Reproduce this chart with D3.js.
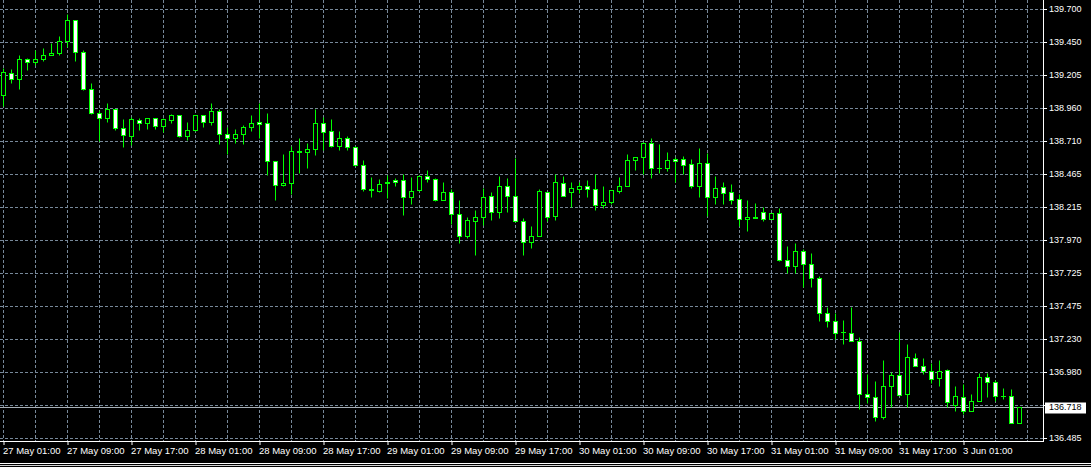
<!DOCTYPE html>
<html>
<head>
<meta charset="utf-8">
<script src="https://cdn.jsdelivr.net/npm/d3@7/dist/d3.min.js"></script>
<style>
  html, body { margin: 0; padding: 0; background: #000; }
  svg { display: block; }
</style>
</head>
<body>
<svg id="chart" width="1091" height="467"></svg>
<script>
// ---------- DATA (H1 candles) ----------
const opens = [
139.054,139.222,139.177,139.327,139.301,139.324,139.357,139.369,139.459,139.619,
139.379,139.102,138.922,138.885,138.947,138.810,138.747,138.870,138.844,138.885,
138.822,138.867,138.902,138.747,138.792,138.902,138.852,138.937,138.765,138.732,
138.762,138.817,138.855,138.847,138.562,138.380,138.394,138.637,138.627,138.649,
138.847,138.787,138.672,138.733,138.667,138.532,138.350,138.338,138.402,138.422,
138.420,138.290,138.342,138.452,138.428,138.267,138.332,138.167,137.997,138.110,
138.140,138.300,138.177,138.375,138.300,138.113,137.952,137.997,138.330,138.147,
138.397,138.327,138.350,138.375,138.353,138.230,138.257,138.335,138.372,138.567,
138.592,138.697,138.509,138.505,138.577,138.577,138.542,138.372,138.547,138.290,
138.368,138.330,138.278,138.125,138.140,138.180,138.125,138.173,137.820,137.772,
137.888,137.790,137.686,137.423,137.363,137.281,137.273,137.213,136.816,136.794,
136.644,136.876,136.959,136.813,137.088,137.026,136.989,136.931,136.996,136.731,
136.794,136.689,136.761,136.944,136.906,136.798,136.798,136.601];
const highs = [
139.259,139.247,139.359,139.331,139.391,139.404,139.444,139.501,139.659,139.621,
139.389,139.142,138.942,138.992,138.947,138.872,138.892,138.885,138.885,138.885,
138.885,138.915,138.909,138.852,138.902,138.909,138.999,138.952,138.814,138.797,
138.827,138.902,138.997,138.917,138.562,138.610,138.672,138.735,138.697,138.947,
138.892,138.872,138.782,138.747,138.677,138.572,138.443,138.428,138.457,138.435,
138.460,138.443,138.457,138.490,138.435,138.407,138.353,138.267,138.140,138.197,
138.355,138.327,138.445,138.437,138.580,138.137,138.075,138.353,138.330,138.465,
138.452,138.402,138.402,138.415,138.465,138.370,138.340,138.440,138.617,138.592,
138.707,138.730,138.685,138.627,138.592,138.602,138.577,138.662,138.622,138.445,
138.402,138.385,138.315,138.265,138.248,138.218,138.173,138.210,137.922,137.948,
137.905,137.873,137.698,137.468,137.423,137.373,137.468,137.243,136.961,136.911,
137.066,136.978,137.278,137.193,137.124,137.086,137.049,137.066,137.004,136.878,
136.886,136.816,136.974,136.974,136.916,136.861,136.849,136.719];
const lows = [
138.972,139.147,139.102,139.241,139.284,139.307,139.357,139.359,139.414,139.314,
139.092,138.912,138.709,138.852,138.792,138.664,138.679,138.792,138.797,138.797,
138.777,138.842,138.739,138.722,138.784,138.814,138.829,138.692,138.615,138.697,
138.692,138.784,138.732,138.457,138.272,138.372,138.317,138.472,138.507,138.604,
138.647,138.667,138.640,138.643,138.522,138.335,138.293,138.327,138.282,138.372,
138.153,138.235,138.335,138.402,138.260,138.267,138.092,137.948,137.982,137.855,
138.085,138.117,138.135,138.177,138.107,137.860,137.907,137.997,138.110,138.117,
138.297,138.215,138.323,138.290,138.197,138.205,138.242,138.320,138.372,138.490,
138.465,138.430,138.472,138.484,138.405,138.465,138.357,138.290,138.147,138.235,
138.242,138.242,138.072,138.035,138.133,138.110,138.125,137.810,137.723,137.723,
137.615,137.615,137.360,137.317,137.228,137.193,137.210,136.699,136.749,136.609,
136.629,136.719,136.806,136.719,137.023,136.963,136.899,136.878,136.719,136.684,
136.663,136.689,136.761,136.791,136.759,136.774,136.599,136.599];
const closes = [
139.229,139.177,139.327,139.304,139.327,139.359,139.372,139.462,139.619,139.379,
139.102,138.922,138.885,138.947,138.810,138.754,138.872,138.844,138.885,138.822,
138.872,138.902,138.747,138.795,138.902,138.855,138.937,138.765,138.732,138.765,
138.819,138.842,138.837,138.562,138.383,138.397,138.637,138.629,138.652,138.842,
138.777,138.672,138.732,138.666,138.532,138.353,138.343,138.392,138.395,138.405,
138.290,138.338,138.452,138.428,138.267,138.332,138.162,137.997,138.115,138.143,
138.293,138.177,138.375,138.297,138.111,137.952,138.000,138.338,138.140,138.405,
138.297,138.360,138.375,138.350,138.230,138.255,138.340,138.377,138.570,138.592,
138.697,138.505,138.509,138.572,138.559,138.529,138.372,138.547,138.290,138.360,
138.320,138.267,138.125,138.143,138.133,138.125,138.173,137.818,137.772,137.888,
137.787,137.683,137.420,137.363,137.273,137.281,137.210,136.813,136.794,136.644,
136.876,136.959,136.806,137.094,137.023,136.986,136.926,136.989,136.753,136.801,
136.689,136.764,136.944,136.906,136.798,136.798,136.599,136.718];

const priceTickLabels = ["139.700","139.450","139.205","138.960","138.710","138.465","138.215",
                         "137.970","137.725","137.475","137.230","136.980","136.730","136.485"];
const priceMin = 136.485, priceMax = 139.700;
const currentPrice = 136.718;
const currentPriceLabel = "136.718";

const timeTickIndex = [0,8,16,24,32,40,48,56,64,72,80,88,96,104,112,120];
const timeTickLabels = ["27 May 01:00","27 May 09:00","27 May 17:00","28 May 01:00","28 May 09:00",
  "28 May 17:00","29 May 01:00","29 May 09:00","29 May 17:00","30 May 01:00","30 May 09:00",
  "30 May 17:00","31 May 01:00","31 May 09:00","31 May 17:00","3 Jun 01:00"];

// ---------- LAYOUT ----------
const W = 1091, H = 467;
const plotRight = 1043.5, plotBottom = 441.5;
const svg = d3.select("#chart");
svg.append("rect").attr("width", W).attr("height", H).attr("fill", "#000");

const n = opens.length;
const x = d3.scaleLinear().domain([0, n - 1]).range([3.5, 3.5 + 8 * (n - 1)]);
const y = d3.scaleLinear().domain([priceMin, priceMax]).range([438.5, 9.5]);

const gridColor = "#778899";
const bull = "#00ff00";
const snap = v => Math.round(v - 0.5) + 0.5;

const nTicks = priceTickLabels.length;
const tickVals = d3.range(nTicks).map(i => priceMax - i * (priceMax - priceMin) / (nTicks - 1));

const grid = svg.append("g");
grid.selectAll("line.h").data(tickVals).join("line")
  .attr("x1", 0).attr("x2", plotRight)
  .attr("y1", d => snap(y(d))).attr("y2", d => snap(y(d)))
  .attr("stroke", gridColor).attr("stroke-width", 1).attr("stroke-dasharray", "3,2");

const vIdx = d3.range(0, 129, 4);
grid.selectAll("line.v").data(vIdx).join("line")
  .attr("x1", d => x(d)).attr("x2", d => x(d))
  .attr("y1", 0).attr("y2", plotBottom)
  .attr("stroke", gridColor).attr("stroke-width", 1).attr("stroke-dasharray", "3,2");

// current price line
const yc = snap(y(currentPrice));
svg.append("line").attr("x1", 0).attr("x2", plotRight).attr("y1", yc).attr("y2", yc)
  .attr("stroke", "#a8b0b8").attr("stroke-width", 1);

// ---------- CANDLES ----------
const candles = svg.append("g");
d3.range(n).forEach(i => {
  const xc = x(i);
  const o = opens[i], c = closes[i], h = highs[i], l = lows[i];
  candles.append("line")
    .attr("x1", xc).attr("x2", xc)
    .attr("y1", snap(y(h))).attr("y2", snap(y(l)) + 0.01)
    .attr("stroke", bull).attr("stroke-width", 1);
  const yt = snap(y(Math.max(o, c))), yb = snap(y(Math.min(o, c)));
  if (yb - yt < 1) {
    candles.append("line")
      .attr("x1", xc - 2.5).attr("x2", xc + 2.5)
      .attr("y1", yt).attr("y2", yt)
      .attr("stroke", bull).attr("stroke-width", 1);
  } else {
    candles.append("rect")
      .attr("x", xc - 2).attr("width", 4)
      .attr("y", yt).attr("height", yb - yt)
      .attr("fill", c > o ? "#000" : "#fff")
      .attr("stroke", bull).attr("stroke-width", 1);
  }
});

// ---------- FRAME ----------
svg.append("line").attr("x1", plotRight).attr("x2", plotRight).attr("y1", 0).attr("y2", plotBottom + 0.5)
  .attr("stroke", "#fff").attr("stroke-width", 1);
svg.append("line").attr("x1", 0).attr("x2", plotRight + 0.5).attr("y1", plotBottom).attr("y2", plotBottom)
  .attr("stroke", "#fff").attr("stroke-width", 1);

// ---------- RIGHT AXIS ----------
const labelMap = new Map(tickVals.map((v, i) => [v, priceTickLabels[i]]));
const yAxis = d3.axisRight(y).tickValues(tickVals).tickSize(3).tickSizeOuter(0)
  .tickFormat(v => labelMap.get(v));
const gy = svg.append("g").attr("transform", `translate(${plotRight},0)`).call(yAxis);
gy.select(".domain").remove();
gy.selectAll(".tick").attr("transform", d => `translate(0,${snap(y(d))})`);
gy.selectAll(".tick line").attr("stroke", "#fff").attr("x1", 0.5).attr("x2", 3.5);
gy.selectAll(".tick text").attr("x", 5.5).attr("dy", "0.33em")
  .attr("fill", "#fff").attr("font-family", "'Liberation Sans', Arial, sans-serif")
  .attr("font-size", "9px")
  .style("display", d => Math.abs(snap(y(d)) - yc) < 9 ? "none" : null);

// current price label box
svg.append("rect").attr("x", 1045).attr("y", yc - 5).attr("width", 41).attr("height", 11).attr("fill", "#fff");
svg.append("text").attr("x", 1049).attr("y", yc).attr("dy", "0.33em").text(currentPriceLabel)
  .attr("fill", "#000").attr("font-family", "'Liberation Sans', Arial, sans-serif").attr("font-size", "9px");

// ---------- BOTTOM AXIS ----------
const tMap = new Map(timeTickIndex.map((v, i) => [v, timeTickLabels[i]]));
const xAxis = d3.axisBottom(x).tickValues(timeTickIndex).tickSize(3).tickSizeOuter(0)
  .tickFormat(v => tMap.get(v));
const gx = svg.append("g").attr("transform", `translate(0,${plotBottom})`).call(xAxis);
gx.select(".domain").remove();
gx.selectAll(".tick line").attr("stroke", "#fff").attr("y1", 0.5).attr("y2", 3.5);
gx.selectAll(".tick text").attr("text-anchor", "start").attr("x", -1).attr("y", 12).attr("dy", 0)
  .attr("fill", "#fff").attr("font-family", "'Liberation Sans', Arial, sans-serif")
  .attr("font-size", "9.5px");

// bottom window lines
svg.append("line").attr("x1", 0).attr("x2", W).attr("y1", 463.5).attr("y2", 463.5).attr("stroke", "#fff");
svg.append("line").attr("x1", 0).attr("x2", W).attr("y1", 465.5).attr("y2", 465.5).attr("stroke", "#d0d0d0");
</script>
</body>
</html>
